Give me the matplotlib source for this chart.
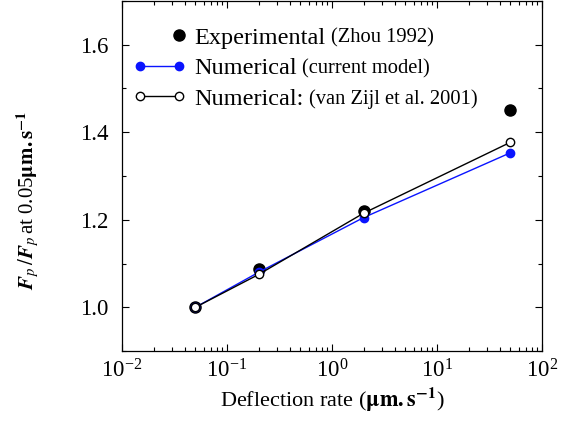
import numpy as np
import matplotlib
matplotlib.use('Agg')
from matplotlib import pyplot as plt
from matplotlib.legend_handler import HandlerLine2D
from matplotlib.ticker import MultipleLocator, FormatStrFormatter

plt.rcParams['font.family'] = 'Liberation Serif'
plt.rcParams['mathtext.fontset'] = 'stix'

# deflection rates (um/s) and normalised peak force
rate = [0.05, 0.2, 2.0, 50.0]
exp_zhou = [1.0, 1.088, 1.22, 1.45]
num_current = [1.0, 1.080, 1.205, 1.353]
num_vanzijl = [1.0, 1.075, 1.215, 1.377]

labels = ['Experimental', 'Numerical', 'Numerical:']
refs = ['(Zhou 1992)', '(current model)', '(van Zijl et al. 2001)']


class RightMarker(HandlerLine2D):
    # single marker drawn at the right end of the legend handle
    def get_xdata(self, legend, xdescent, ydescent, width, height, fontsize):
        xd, _ = super().get_xdata(legend, xdescent, ydescent, width, height, fontsize)
        x = np.array([xd[-1]])
        return x, x


fig = plt.figure(figsize=(5.7, 4.23), dpi=100)
ax = fig.add_axes([0.214, 0.170, 0.737, 0.828])

l1, = ax.plot(rate, exp_zhou, 'o', color='black', ms=8, mec='black', zorder=3)
l2, = ax.plot(rate, num_current, '-o', color='#0a14ff', lw=1.0, ms=6,
              mec='#0a14ff', zorder=4)
l3, = ax.plot(rate, num_vanzijl, '-o', color='black', lw=1.0, ms=6,
              mfc='white', mec='black', mew=1.0, zorder=5)

ax.set_xscale('log')
ax.set_xlim(1e-2, 1e2)
ax.set_ylim(0.9, 1.7)
ax.yaxis.set_major_locator(MultipleLocator(0.2))
ax.yaxis.set_minor_locator(MultipleLocator(0.1))
ax.yaxis.set_major_formatter(FormatStrFormatter('%.1f'))

ax.tick_params(which='both', direction='in', top=True, right=True,
               labelsize=16.5, width=0.8)
ax.tick_params(which='major', length=5)
ax.tick_params(which='minor', length=3)
ax.tick_params(axis='x', pad=6)
ax.tick_params(axis='y', pad=10)
for s in ax.spines.values():
    s.set_linewidth(0.9)

ax.set_xlabel(r'Deflection rate ($\mathbf{\mu m.s}^{\mathbf{-1}}$)', fontsize=16,
              labelpad=2)
ax.set_ylabel(r'$\mathbfit{F}_{p}\,/\mathbfit{F}_{p}\,$at 0.05$\mathbf{\mu m.s}^{\mathbf{-1}}$',
              fontsize=15)
ax.yaxis.set_label_coords(-0.19, 0.43)

leg = ax.legend([l1, l2, l3], labels, loc='upper left',
                bbox_to_anchor=(-0.015, 0.975), frameon=False, fontsize=17.5,
                handlelength=2.2, handletextpad=0.35, labelspacing=0.35,
                borderaxespad=0.3, numpoints=2,
                handler_map={l1: RightMarker()})

# smaller reference text after each legend entry
fig.canvas.draw()
inv = fig.transFigure.inverted()
for t, ref in zip(leg.get_texts(), refs):
    bb = t.get_window_extent()
    x, y = inv.transform((bb.x1 + 5, bb.y0 + 1))
    fig.text(x, y, ref, fontsize=14.8, va='bottom')

fig.savefig('out.png', dpi=100)
